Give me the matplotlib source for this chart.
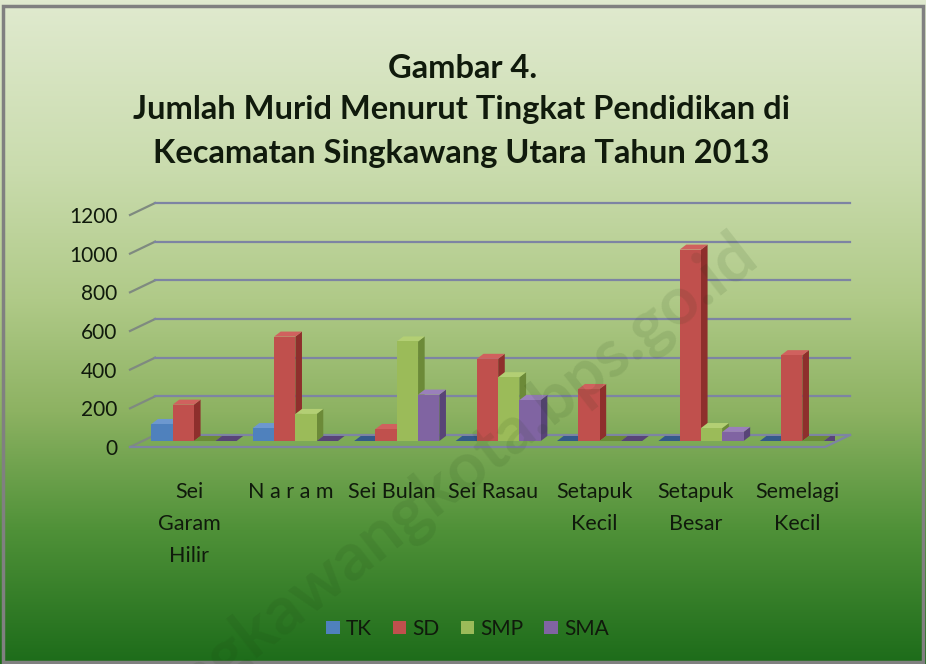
import numpy as np
import matplotlib
matplotlib.use("Agg")
import matplotlib.pyplot as plt
from matplotlib.colors import LinearSegmentedColormap
from matplotlib.patches import Polygon, Rectangle

# ==========================
# Data
# ==========================
categories = ["Sei\nGaram\nHilir", "N a r a m", "Sei Bulan", "Sei Rasau",
              "Setapuk\nKecil", "Setapuk\nBesar", "Semelagi\nKecil"]
series = ["TK", "SD", "SMP", "SMA"]
tk = [88, 67, 0, 0, 0, 0, 0]
sd = [188, 540, 62, 425, 269, 990, 444]
smp = [0, 140, 515, 330, 0, 67, 0]
sma = [0, 0, 240, 212, 0, 47, 0]
yticks = [0, 200, 400, 600, 800, 1000, 1200]

front_colors = ["#4f81bd", "#c0504d", "#9bbb59", "#8064a2"]
side_colors = ["#34598a", "#8e2f2c", "#6c8a38", "#584477"]
top_colors = ["#6d98cf", "#d0615e", "#b3cf74", "#9a80bb"]
text_col = "#101a0c"

font = ["Lato", "DejaVu Sans"]
plt.rcParams["font.family"] = font

fig = plt.figure(figsize=(9.26, 6.64), dpi=100)

# background gradient
bg = fig.add_axes([0, 0, 1, 1], zorder=-10)
cmap = LinearSegmentedColormap.from_list(
    "bg", [(0.0, "#e0eacf"), (0.25, "#cadcae"), (0.45, "#b0ca88"),
           (0.62, "#8db262"), (0.8, "#4f9138"), (1.0, "#1d6c1a")])
grad = np.linspace(0, 1, 256).reshape(-1, 1)
bg.imshow(grad, aspect="auto", cmap=cmap, extent=[0, 1, 0, 1], origin="upper")
bg.set_axis_off()
bg.add_patch(Rectangle((0.003, 0.003), 0.994, 0.988, fill=False,
                       edgecolor="#808080", lw=2.5, transform=bg.transAxes))

# watermark
fig.text(0.41, 0.19, "www.singkawangkota.bps.go.id", fontsize=48, fontweight="bold",
         color="#1a3a10", alpha=0.10, rotation=38, ha="center", va="center",
         rotation_mode="anchor")

ax = fig.add_axes([130 / 926, (664 - 447) / 664, 705 / 926, 232 / 664])
ax.set_facecolor("none")
x0 = -0.631
ax.set_xlim(x0, x0 + 705 / 101.4)
ax.set_ylim(0, 1200)

# back wall offset and bar depth (in data units)
wall_dx, wall_dy = 0.247, 62
bar_dx, bar_dy = 0.065, 26
base = 31
grid_col = "#7d84a3"
xr = x0 + 720 / 101.4

for v in yticks:
    ax.plot([x0, x0 + wall_dx], [v, v + wall_dy], color="#7f8a80", lw=1.6,
            clip_on=False, zorder=1)
    ax.plot([x0 + wall_dx, xr], [v + wall_dy, v + wall_dy],
            color=grid_col, lw=1.6, clip_on=False, zorder=1)
# floor front edge
ax.plot([x0, xr - wall_dx, xr], [0, 0, wall_dy], color=grid_col, lw=1.6,
        clip_on=False, zorder=1)

width = 0.21
values = [tk, sd, smp, sma]
xs = np.arange(len(categories))
for j, vals in enumerate(values):
    left = xs - 0.42 + j * width
    for i, v in enumerate(vals):
        l = left[i]
        r = l + width
        b = base
        t = base + v
        side = Polygon([(r, b), (r + bar_dx, b + bar_dy), (r + bar_dx, t + bar_dy), (r, t)],
                       closed=True, facecolor=side_colors[j], edgecolor="none",
                       zorder=3 + j * 0.1 - i * 0.01)
        top = Polygon([(l, t), (r, t), (r + bar_dx, t + bar_dy), (l + bar_dx, t + bar_dy)],
                      closed=True, facecolor=top_colors[j] if v > 0 else side_colors[j],
                      edgecolor="none", zorder=3 + j * 0.1 - i * 0.01)
        ax.add_patch(side)
        ax.add_patch(top)
    ax.bar(left, vals, width=width, bottom=base, align="edge", color=front_colors[j],
           edgecolor="none", zorder=3.05 + j * 0.1, label=series[j])

for s in ax.spines.values():
    s.set_visible(False)
ax.set_yticks(yticks)
ax.set_yticklabels([str(v) for v in yticks], fontsize=15, color=text_col)
ax.tick_params(axis="y", length=0, pad=9)
ax.set_xticks(xs - 0.05)
ax.set_xticklabels(categories, fontsize=15.5, linespacing=1.76, va="top", color=text_col)
ax.tick_params(axis="x", length=0, pad=25)

title_kw = dict(ha="center", va="center", fontsize=23.5, fontweight="bold", color=text_col)
fig.text(0.5, 0.897, "Gambar 4.", **title_kw)
fig.text(0.498, 0.835, "Jumlah Murid Menurut Tingkat Pendidikan di", **title_kw)
fig.text(0.498, 0.769, "Kecamatan Singkawang Utara Tahun 2013", **title_kw)

leg = fig.legend(loc="center", bbox_to_anchor=(0.505, 0.053), ncol=4, frameon=False,
                 fontsize=15, handlelength=0.65, handleheight=0.65, handletextpad=0.3,
                 columnspacing=1.0)
for t in leg.get_texts():
    t.set_color(text_col)

fig.savefig("out.png", dpi=100)
